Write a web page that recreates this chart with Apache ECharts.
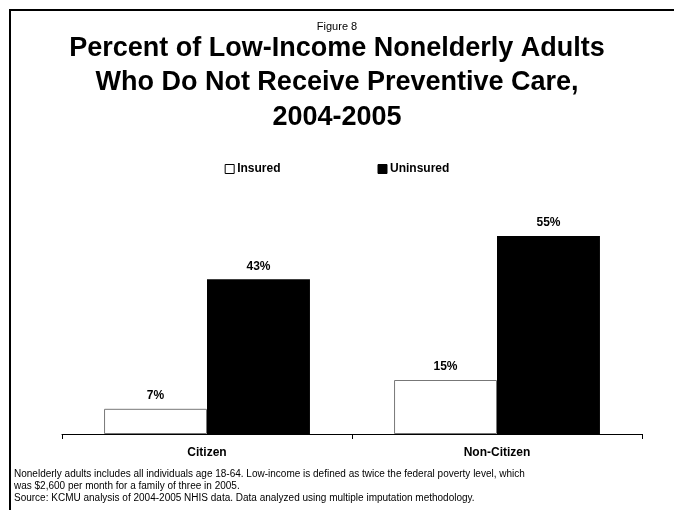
<!DOCTYPE html>
<html>
<head>
<meta charset="utf-8">
<script src="https://cdn.jsdelivr.net/npm/echarts@6/dist/echarts.min.js"></script>
<style>
  html, body { margin: 0; padding: 0; background: #fff; }
  #chart { width: 674px; height: 510px; }
</style>
</head>
<body>
<div id="chart"></div>
<script>
var categories = ['Citizen', 'Non-Citizen'];
var insured = [7, 15];
var uninsured = [43, 55];
var seriesNames = ['Insured', 'Uninsured'];

var font = 'Arial, "Liberation Sans", Helvetica, sans-serif';

var chart = echarts.init(document.getElementById('chart'));

var option = {
    animation: false,
    backgroundColor: '#fff',
    legend: {
        data: seriesNames,
        top: 158,
        left: 'center',
        itemWidth: 9,
        itemHeight: 9,
        itemGap: 97,
        icon: 'rect',
        itemStyle: { borderColor: '#000', borderWidth: 1 },
        textStyle: { fontFamily: font, fontSize: 12, fontWeight: 'bold', color: '#000', padding: [0, 0, 0, -2] }
    },
    grid: { left: 62, right: 32, top: 218, bottom: 76, containLabel: false },
    xAxis: {
        type: 'category',
        data: categories,
        axisLine: { lineStyle: { color: '#000', width: 1 } },
        axisTick: { show: true, alignWithLabel: false, inside: false, length: 5, lineStyle: { color: '#000' } },
        axisLabel: { fontFamily: font, fontSize: 12, fontWeight: 'bold', color: '#000', margin: 13 }
    },
    yAxis: {
        type: 'value',
        min: 0,
        max: 60,
        show: false,
        splitLine: { show: false }
    },
    series: [{
        name: seriesNames[0],
        type: 'bar',
        data: insured,
        barGap: '0%',
        barCategoryGap: '29%',
        itemStyle: { color: '#fff', borderColor: '#777', borderWidth: 1 },
        label: { show: true, position: 'top', distance: 7, formatter: '{c}%', fontFamily: font, fontSize: 12, fontWeight: 'bold', color: '#000' }
    }, {
        name: seriesNames[1],
        type: 'bar',
        data: uninsured,
        barGap: '0%',
        barCategoryGap: '29%',
        itemStyle: { color: '#000' },
        label: { show: true, position: 'top', distance: 7, formatter: '{c}%', fontFamily: font, fontSize: 12, fontWeight: 'bold', color: '#000' }
    }],
    graphic: [{
        type: 'rect',
        shape: { x: 10, y: 10, width: 700, height: 600 },
        style: { fill: 'none', stroke: '#000', lineWidth: 2 },
        silent: true
    }, {
        type: 'text',
        x: 337,
        y: 21,
        style: {
            text: 'Figure 8',
            font: '11px ' + font,
            textAlign: 'center',
            fill: '#000'
        }
    }, {
        type: 'text',
        x: 337,
        y: 31,
        style: {
            text: 'Percent of Low-Income Nonelderly Adults\nWho Do Not Receive Preventive Care,\n2004-2005',
            font: 'bold 27px ' + font,
            lineHeight: 34.5,
            textAlign: 'center',
            fill: '#000'
        }
    }, {
        type: 'text',
        left: 14,
        top: 468,
        style: {
            text: 'Nonelderly adults includes all individuals age 18-64. Low-income is defined as twice the federal poverty level, which\nwas $2,600 per month for a family of three in 2005.\nSource: KCMU analysis of 2004-2005 NHIS data. Data analyzed using multiple imputation methodology.',
            font: '10px ' + font,
            lineHeight: 12,
            fill: '#000'
        }
    }]
};

chart.setOption(option);
</script>
</body>
</html>
